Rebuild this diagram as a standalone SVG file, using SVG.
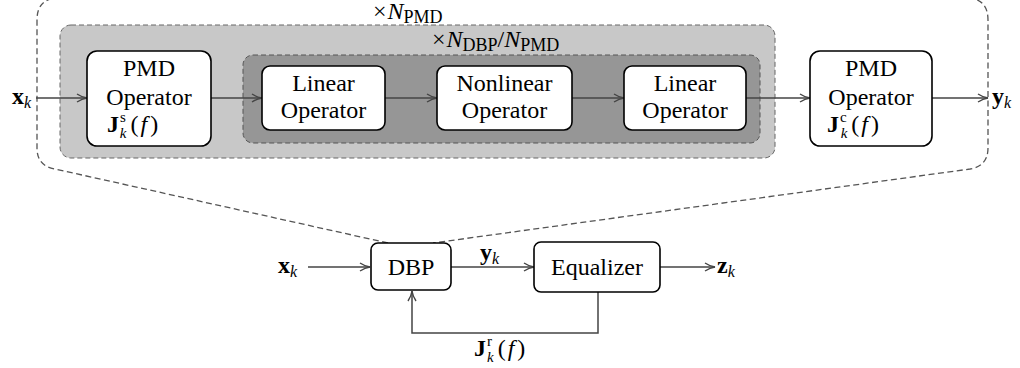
<svg xmlns="http://www.w3.org/2000/svg" width="1020" height="368" viewBox="0 0 1020 368">
<style>
  .t{font-family:'Liberation Serif','Times New Roman',serif;font-size:24px;fill:#000}
  .b{font-weight:bold}
  .i{font-style:italic}
  .s{font-size:16px}
  .box{fill:#fff;stroke:#000;stroke-width:1.6}
  .conn{fill:none;stroke:#444;stroke-width:1.5}
  .dash{fill:none;stroke:#555;stroke-width:1.3;stroke-dasharray:6 3.5}
</style>
<defs>
  <marker id="arr" viewBox="0 0 12 10" refX="11" refY="5" markerWidth="12" markerHeight="10" markerUnits="userSpaceOnUse" orient="auto">
    <path d="M1,1 Q6,4.3 11,5 Q6,5.7 1,9" fill="none" stroke="#444" stroke-width="1.4"/>
  </marker>
</defs>

<path class="dash" d="M388,243 L55,169 Q37,166 37,148 L37,20 Q37,-2 59,-2 L966,-2 Q988,-2 988,20 L988,148 Q988,166 970,169 L433,243"/>

<g id="region-pmd">
  <rect x="60" y="25" width="715" height="133" rx="11" fill="#c8c8c8" stroke="#666" stroke-width="1" stroke-dasharray="5 3"/>
  <text class="t" x="373" y="19">×<tspan class="i" dx="1">N</tspan><tspan font-size="18" dy="4">PMD</tspan></text>
</g>
<g id="region-dbp">
  <rect x="243" y="55" width="517" height="88" rx="10" fill="#969696" stroke="#555" stroke-width="1" stroke-dasharray="5 3"/>
  <text class="t" x="432" y="47">×<tspan class="i" dx="1">N</tspan><tspan font-size="18" dy="4">DBP</tspan><tspan dy="-4">/</tspan><tspan class="i">N</tspan><tspan font-size="18" dy="4">PMD</tspan></text>
</g>

<g id="connectors">
  <path class="conn" d="M36,98 L87,98" marker-end="url(#arr)"/>
  <path class="conn" d="M211,98 L262,98" marker-end="url(#arr)"/>
  <path class="conn" d="M385,98 L437,98" marker-end="url(#arr)"/>
  <path class="conn" d="M572,98 L624,98" marker-end="url(#arr)"/>
  <path class="conn" d="M746,98 L810,98" marker-end="url(#arr)"/>
  <path class="conn" d="M932,98 L988,98" marker-end="url(#arr)"/>
  <path class="conn" d="M308,267 L370,267" marker-end="url(#arr)"/>
  <path class="conn" d="M451,267 L534,267" marker-end="url(#arr)"/>
  <path class="conn" d="M660,267 L715,267" marker-end="url(#arr)"/>
  <path class="conn" d="M598,292 L598,333 L412,333 L412,291" marker-end="url(#arr)"/>
</g>

<g id="labels">
  <text class="t" x="12" y="104"><tspan class="b">x</tspan><tspan class="i s" dy="4">k</tspan></text>
  <text class="t" x="992" y="104"><tspan class="b">y</tspan><tspan class="i s" dy="4">k</tspan></text>
  <text class="t" x="278" y="273"><tspan class="b">x</tspan><tspan class="i s" dy="4">k</tspan></text>
  <text class="t" x="480" y="260"><tspan class="b">y</tspan><tspan class="i s" dy="4">k</tspan></text>
  <text class="t" x="717" y="273"><tspan class="b">z</tspan><tspan class="i s" dy="4">k</tspan></text>
  <text class="t" x="474" y="356" font-size="25"><tspan class="b">J</tspan><tspan font-size="15" dx="1" dy="-10">r</tspan><tspan class="i" font-size="15" dx="-5" dy="16">k</tspan><tspan dx="4" dy="-6">(</tspan><tspan class="i" dx="2">f</tspan><tspan dx="3">)</tspan></text>
</g>

<g id="pmd-s">
  <rect class="box" x="87" y="51" width="124" height="95" rx="10"/>
  <text class="t" x="149" y="76" text-anchor="middle">PMD</text>
  <text class="t" x="149" y="105" text-anchor="middle">Operator</text>
  <text class="t" x="107" y="132" font-size="25"><tspan class="b">J</tspan><tspan font-size="15" dx="1" dy="-10">s</tspan><tspan class="i" font-size="15" dx="-6" dy="16">k</tspan><tspan dx="4" dy="-6">(</tspan><tspan class="i" dx="2">f</tspan><tspan dx="3">)</tspan></text>
</g>

<g id="linear-1">
  <rect class="box" x="262" y="66" width="123" height="64" rx="8"/>
  <text class="t" x="323.5" y="91" text-anchor="middle">Linear</text>
  <text class="t" x="323.5" y="118" text-anchor="middle">Operator</text>
</g>

<g id="nonlinear">
  <rect class="box" x="437" y="66" width="135" height="64" rx="8"/>
  <text class="t" x="504.5" y="91" text-anchor="middle">Nonlinear</text>
  <text class="t" x="504.5" y="118" text-anchor="middle">Operator</text>
</g>

<g id="linear-2">
  <rect class="box" x="624" y="66" width="122" height="64" rx="8"/>
  <text class="t" x="685" y="91" text-anchor="middle">Linear</text>
  <text class="t" x="685" y="118" text-anchor="middle">Operator</text>
</g>

<g id="pmd-c">
  <rect class="box" x="810" y="51" width="122" height="95" rx="10"/>
  <text class="t" x="871" y="76" text-anchor="middle">PMD</text>
  <text class="t" x="871" y="105" text-anchor="middle">Operator</text>
  <text class="t" x="827" y="132" font-size="25"><tspan class="b">J</tspan><tspan font-size="15" dx="1" dy="-10">c</tspan><tspan class="i" font-size="15" dx="-6" dy="16">k</tspan><tspan dx="4" dy="-6">(</tspan><tspan class="i" dx="2">f</tspan><tspan dx="3">)</tspan></text>
</g>

<g id="dbp">
  <rect class="box" x="371" y="243" width="80" height="47" rx="7"/>
  <text class="t" x="411" y="275" text-anchor="middle">DBP</text>
</g>

<g id="equalizer">
  <rect class="box" x="534" y="242" width="126" height="50" rx="7"/>
  <text class="t" x="597" y="275" text-anchor="middle">Equalizer</text>
</g>
</svg>
